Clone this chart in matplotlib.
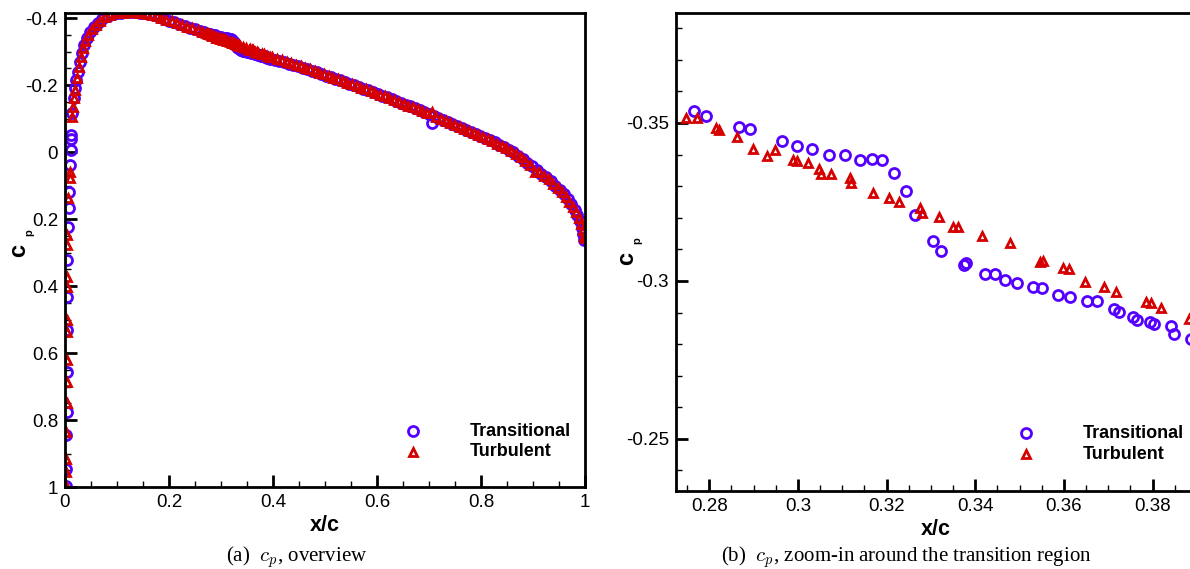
import numpy as np
import matplotlib
matplotlib.use("Agg")
import matplotlib.pyplot as plt
from matplotlib.ticker import MultipleLocator, FuncFormatter
from matplotlib.lines import Line2D

plt.rcParams['font.family'] = ['Liberation Sans', 'DejaVu Sans']
plt.rcParams['axes.unicode_minus'] = False
plt.rcParams['mathtext.fontset'] = 'cm'

# ---------------- data ----------------
series_names = ["Transitional", "Turbulent"]

# leading edge (stagnation side) points, overview
le_x_trans = [0.001, 0.001, 0.002, 0.003, 0.003, 0.003, 0.003, 0.004, 0.006, 0.0077, 0.0077, 0.0096, 0.0115, 0.0115, 0.0115]
le_cp_trans = [0.997, 0.946, 0.845, 0.776, 0.657, 0.531, 0.433, 0.322, 0.224, 0.167, 0.119, 0.039, -0.006, -0.040, -0.050]
up_x_trans = [0.014, 0.017, 0.019, 0.022, 0.025, 0.029, 0.032, 0.036, 0.042, 0.048, 0.055, 0.063, 0.072, 0.082, 0.092]
up_cp_trans = [-0.116, -0.160, -0.190, -0.215, -0.240, -0.270, -0.295, -0.320, -0.340, -0.358, -0.373, -0.386, -0.398, -0.407, -0.412]
mid1_x_trans = [0.100, 0.108, 0.117, 0.126, 0.135, 0.144, 0.153, 0.162, 0.171, 0.180, 0.190, 0.200, 0.210, 0.220, 0.230, 0.240, 0.250, 0.260, 0.268]
mid1_cp_trans = [-0.414, -0.416, -0.417, -0.417, -0.417, -0.416, -0.414, -0.411, -0.408, -0.404, -0.398, -0.392, -0.387, -0.381, -0.376, -0.371, -0.366, -0.361, -0.357]
mid2_x_trans = [0.395, 0.403, 0.412, 0.421, 0.430, 0.439, 0.448, 0.457, 0.466, 0.475, 0.484, 0.493, 0.502, 0.511, 0.520, 0.529, 0.538, 0.547, 0.556, 0.565,
                0.574, 0.583, 0.592, 0.601, 0.610, 0.619, 0.628, 0.637, 0.646, 0.655, 0.664, 0.673, 0.682, 0.691, 0.700, 0.705, 0.709, 0.718, 0.727, 0.736,
                0.745, 0.754, 0.763, 0.772, 0.781, 0.790, 0.799, 0.808, 0.817, 0.826, 0.835, 0.844, 0.853, 0.862, 0.871, 0.880, 0.889, 0.898, 0.907, 0.916,
                0.925, 0.934, 0.943, 0.952, 0.960, 0.967, 0.974, 0.980, 0.985, 0.990, 0.994, 0.997, 0.999]
mid2_cp_trans = [-0.279, -0.276, -0.272, -0.268, -0.264, -0.260, -0.256, -0.251, -0.247, -0.242, -0.238, -0.233, -0.228, -0.224, -0.219, -0.214, -0.209, -0.204, -0.199, -0.194,
                 -0.189, -0.184, -0.179, -0.173, -0.168, -0.163, -0.158, -0.152, -0.147, -0.141, -0.136, -0.130, -0.125, -0.119, -0.113, -0.087, -0.108, -0.102, -0.096, -0.090,
                 -0.084, -0.078, -0.072, -0.066, -0.060, -0.055, -0.049, -0.042, -0.036, -0.029, -0.022, -0.015, -0.007, 0.001, 0.011, 0.021, 0.032, 0.043, 0.054, 0.065,
                 0.076, 0.088, 0.100, 0.113, 0.126, 0.140, 0.156, 0.172, 0.188, 0.206, 0.226, 0.245, 0.262]

le_x_turb = [0.001, 0.001, 0.002, 0.002, 0.003, 0.003, 0.003, 0.003, 0.003, 0.004, 0.004, 0.004, 0.004, 0.006, 0.0096, 0.0096]
le_cp_turb = [0.997, 0.955, 0.917, 0.835, 0.750, 0.686, 0.621, 0.537, 0.501, 0.403, 0.373, 0.278, 0.248, 0.137, 0.078, 0.060]
up_x_turb = [0.013, 0.016, 0.018, 0.020, 0.023, 0.027, 0.031, 0.034, 0.039, 0.045, 0.052, 0.059, 0.067, 0.077, 0.087, 0.097]
up_cp_turb = [-0.104, -0.134, -0.160, -0.185, -0.220, -0.255, -0.285, -0.310, -0.330, -0.350, -0.367, -0.380, -0.392, -0.403, -0.410, -0.414]
mid1_x_turb = [0.104, 0.113, 0.122, 0.131, 0.140, 0.149, 0.158, 0.167, 0.176, 0.185, 0.195, 0.205, 0.215, 0.225, 0.235, 0.245, 0.255, 0.264, 0.271]
mid1_cp_turb = [-0.415, -0.416, -0.417, -0.417, -0.416, -0.415, -0.413, -0.410, -0.406, -0.401, -0.395, -0.390, -0.384, -0.379, -0.374, -0.369, -0.364, -0.359, -0.355]
mid2_x_turb = [0.394, 0.399, 0.408, 0.417, 0.426, 0.435, 0.444, 0.453, 0.462, 0.471, 0.480, 0.489, 0.498, 0.507, 0.516, 0.525, 0.534, 0.543, 0.552, 0.561,
               0.570, 0.579, 0.588, 0.597, 0.606, 0.615, 0.624, 0.633, 0.642, 0.651, 0.660, 0.669, 0.678, 0.687, 0.696, 0.705, 0.714, 0.723, 0.732, 0.741,
               0.750, 0.759, 0.768, 0.777, 0.786, 0.795, 0.804, 0.813, 0.822, 0.831, 0.840, 0.849, 0.858, 0.867, 0.876, 0.885, 0.894, 0.903, 0.912, 0.921,
               0.930, 0.939, 0.948, 0.956, 0.963, 0.970, 0.977, 0.983, 0.988, 0.992, 0.996, 0.998, 1.000]
mid2_cp_turb = [-0.285, -0.283, -0.279, -0.274, -0.270, -0.265, -0.261, -0.256, -0.251, -0.247, -0.242, -0.237, -0.232, -0.227, -0.222, -0.217, -0.212, -0.207, -0.202, -0.197,
                -0.192, -0.187, -0.182, -0.176, -0.171, -0.166, -0.160, -0.155, -0.149, -0.144, -0.138, -0.133, -0.127, -0.122, -0.116, -0.118, -0.105, -0.099, -0.093, -0.087,
                -0.081, -0.075, -0.069, -0.063, -0.057, -0.052, -0.045, -0.039, -0.032, -0.025, -0.018, -0.011, -0.003, 0.006, 0.016, 0.027, 0.038, 0.060, 0.059, 0.071,
                0.082, 0.094, 0.107, 0.120, 0.133, 0.148, 0.163, 0.180, 0.197, 0.215, 0.232, 0.250, 0.258]

# transition region (zoom-in) points
zoom_x_trans = [0.2766, 0.2793, 0.2868, 0.2893, 0.2963, 0.2997, 0.3031, 0.3069, 0.3106, 0.3140, 0.3167, 0.3189, 0.3217, 0.3244, 0.3264,
                0.3305, 0.3323, 0.3375, 0.3380, 0.3423, 0.3445, 0.3466, 0.3495, 0.3531, 0.3550, 0.3586, 0.3613, 0.3651, 0.3674, 0.3713,
                0.3724, 0.3756, 0.3765, 0.3794, 0.3803, 0.3842, 0.3848, 0.3887]
zoom_cp_trans = [-0.3538, -0.3522, -0.3487, -0.3481, -0.3443, -0.3427, -0.3418, -0.3399, -0.3399, -0.3383, -0.3386, -0.3383, -0.3342, -0.3285, -0.3209,
                 -0.3127, -0.3095, -0.3051, -0.3057, -0.3022, -0.3022, -0.3003, -0.2994, -0.2981, -0.2978, -0.2956, -0.2949, -0.2937, -0.2937, -0.2911,
                 -0.2902, -0.2886, -0.2877, -0.2870, -0.2864, -0.2858, -0.2832, -0.2817]
zoom_x_turb = [0.2748, 0.2773, 0.2816, 0.2822, 0.2863, 0.2899, 0.2931, 0.2949, 0.2988, 0.2999, 0.3022, 0.3047, 0.3053, 0.3074, 0.3117,
               0.3119, 0.3169, 0.3205, 0.3228, 0.3275, 0.3280, 0.3318, 0.3350, 0.3362, 0.3416, 0.3479, 0.3545, 0.3552, 0.3599, 0.3611,
               0.3647, 0.3690, 0.3717, 0.3785, 0.3796, 0.3819, 0.3882]
zoom_cp_turb = [-0.3516, -0.3516, -0.3484, -0.3478, -0.3456, -0.3418, -0.3396, -0.3415, -0.3383, -0.3380, -0.3373, -0.3354, -0.3339, -0.3339, -0.3326,
                -0.3310, -0.3279, -0.3263, -0.3250, -0.3231, -0.3215, -0.3203, -0.3171, -0.3171, -0.3142, -0.3120, -0.3060, -0.3063, -0.3041, -0.3038,
                -0.2997, -0.2981, -0.2965, -0.2934, -0.2930, -0.2915, -0.2880]

x_trans_all = le_x_trans + up_x_trans + mid1_x_trans + zoom_x_trans + mid2_x_trans
cp_trans_all = le_cp_trans + up_cp_trans + mid1_cp_trans + zoom_cp_trans + mid2_cp_trans
x_turb_all = le_x_turb + up_x_turb + mid1_x_turb + zoom_x_turb + mid2_x_turb
cp_turb_all = le_cp_turb + up_cp_turb + mid1_cp_turb + zoom_cp_turb + mid2_cp_turb

captions = [r"(a)  $c_p$, overview", r"(b)  $c_p$, zoom-in around the transition region"]

# ---------------- style ----------------
W, H = 1190, 569
C_TRANS = '#5500ff'
C_TURB = '#d50000'
sty_trans = dict(linestyle='none', marker='o', mfc='none', mec=C_TRANS, ms=7.2, mew=2.0)
sty_turb = dict(linestyle='none', marker='^', mfc='none', mec=C_TURB, ms=5.8, mew=2.0)

fig = plt.figure(figsize=(W / 100, H / 100), dpi=100)


def px_axes(l, t, r, b):
    return fig.add_axes([l / W, 1 - b / H, (r - l) / W, (b - t) / H])


fmt = FuncFormatter(lambda v, p: ('%g' % round(v, 6)))


def style_axes(ax):
    for s in ax.spines.values():
        s.set_linewidth(2.0)
    ax.tick_params(which='both', direction='in', top=False, right=False, labelsize=13.5, pad=5)
    ax.tick_params(which='major', length=8.5, width=2.0)
    ax.tick_params(which='minor', length=4.5, width=1.0)
    ax.xaxis.set_major_formatter(fmt)
    ax.yaxis.set_major_formatter(fmt)
    ax.set_xlabel('x/c', fontsize=15.5, fontweight='bold', labelpad=3)


def legend_manual(ax, mx, tx, ys):
    for (st, name, y) in zip([sty_trans, sty_turb], series_names, ys):
        ax.add_line(Line2D([mx], [y], transform=ax.transAxes, clip_on=False, **st))
        ax.text(tx, y, name, transform=ax.transAxes, fontsize=13, fontweight='bold', va='center', ha='left')


def cp_label(xc, yc):
    fig.text(xc / W, 1 - yc / H, 'c', fontsize=17, fontweight='bold', rotation=90, ha='center', va='center')
    fig.text((xc + 10) / W, 1 - (yc - 17) / H, 'p', fontsize=8, fontweight='bold', rotation=90, ha='center', va='center')


# ---- (a) overview ----
ax1 = px_axes(65, 13, 585, 487)
ax1.plot(x_trans_all, cp_trans_all, **sty_trans)
ax1.plot(x_turb_all, cp_turb_all, **sty_turb)
ax1.set_xlim(0, 1)
ax1.set_ylim(1.0, -0.415)
ax1.xaxis.set_major_locator(MultipleLocator(0.2))
ax1.xaxis.set_minor_locator(MultipleLocator(0.05))
ax1.yaxis.set_major_locator(MultipleLocator(0.2))
ax1.yaxis.set_minor_locator(MultipleLocator(0.05))
style_axes(ax1)
legend_manual(ax1, 0.669, 0.779, [0.118, 0.074])
cp_label(19, 250)

# ---- (b) zoom-in ----
ax2 = px_axes(676, 13, 1195, 491)
ax2.plot(zoom_x_trans, zoom_cp_trans, **sty_trans)
ax2.plot(zoom_x_turb, zoom_cp_turb, **sty_turb)
ax2.set_xlim(0.2725, 0.38956)
ax2.set_ylim(-0.2335, -0.3848)
ax2.xaxis.set_major_locator(MultipleLocator(0.02))
ax2.xaxis.set_minor_locator(MultipleLocator(0.005))
ax2.yaxis.set_major_locator(MultipleLocator(0.05))
ax2.yaxis.set_minor_locator(MultipleLocator(0.01))
style_axes(ax2)
legend_manual(ax2, 0.674, 0.784, [0.121, 0.077])
cp_label(627, 258)

# captions
fig.text(297 / W, 1 - 557 / H, captions[0], fontsize=15, family='Liberation Serif', ha='center', va='center')
fig.text(906 / W, 1 - 557 / H, captions[1], fontsize=15, family='Liberation Serif', ha='center', va='center')

fig.savefig('out.png', dpi=100)
